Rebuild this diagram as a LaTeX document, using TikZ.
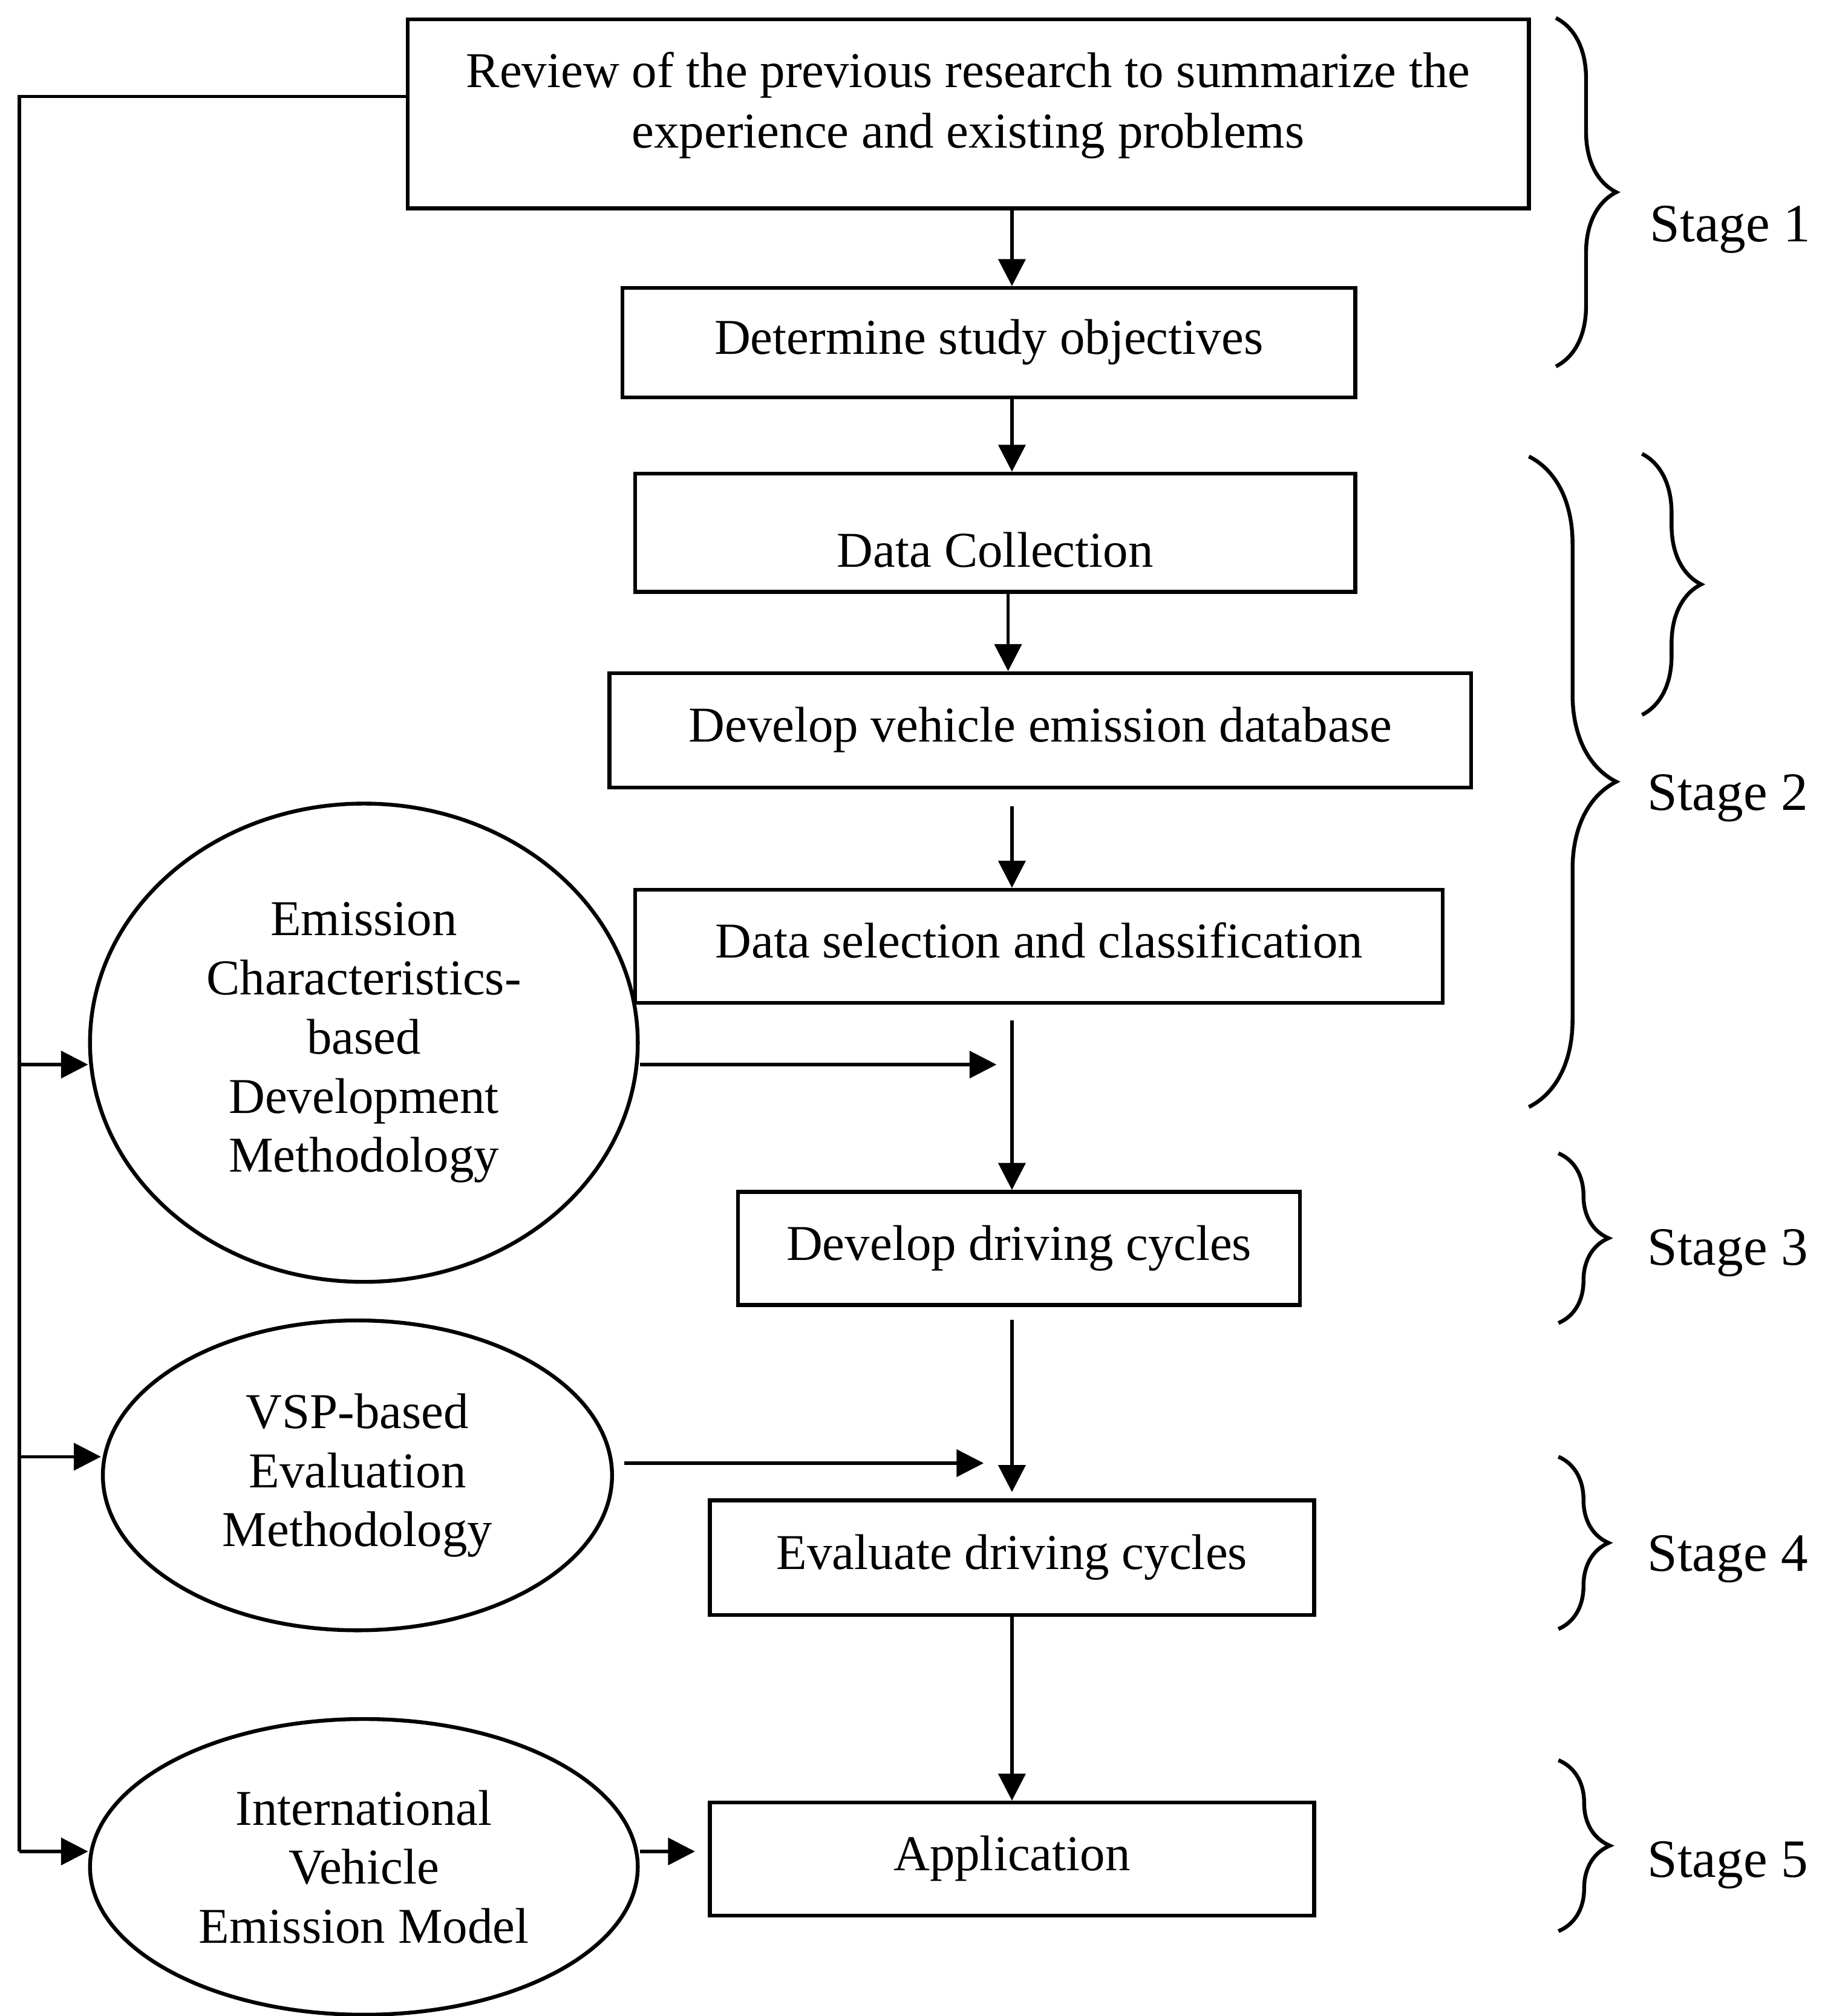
\documentclass[tikz,border=0pt]{standalone}
\usepackage{fontspec}
\setmainfont{Liberation Serif}
\usetikzlibrary{arrows.meta,shapes.geometric,decorations.pathreplacing}
\tikzset{
  txtfont/.style={font=\fontsize{39pt}{46pt}\selectfont},
  stepbox/.style={draw, line width=3pt, rectangle, inner sep=0pt, txtfont,
    text height=27pt, text depth=9pt},
  bigbox/.style={draw, line width=3pt, rectangle, inner sep=0pt},
  oval/.style={draw, line width=3pt, ellipse, inner sep=0pt, txtfont, align=center},
  conn/.style={line width=2.5pt, -{Triangle[length=21pt,width=21pt]}},
  plain/.style={line width=2.5pt},
  stagebrace/.style={line width=3pt, decorate, decoration={brace, amplitude=#1}},
  stagelbl/.style={anchor=base west, inner sep=0pt, font=\fontsize{42pt}{46pt}\selectfont}
}
\begin{document}
\begin{tikzpicture}[x=1pt, y=-1pt]
\useasboundingbox (0,0) rectangle (1419,1568);

% boxes
\node[bigbox, minimum width=872pt, minimum height=147pt,
  label={[name=b1t, txtfont, align=center, inner sep=0pt, yshift=6.5pt, font=\fontsize{39pt}{47pt}\selectfont]center:{Review of the previous research to summarize the\\experience and existing problems}}]
  (b1) at (753,88.6) {};
\node[stepbox, minimum width=570pt, minimum height=85pt] (b2) at (769,266.5) {Determine study objectives};
\node[stepbox, minimum width=560pt, minimum height=92pt, text height=62pt] (b3) at (774,414.4) {Data Collection};
\node[stepbox, minimum width=670pt, minimum height=89pt] (b4) at (809,568) {Develop vehicle emission database};
\node[stepbox, minimum width=628pt, minimum height=88pt] (b5) at (808,736) {Data selection and classification};
\node[stepbox, minimum width=437pt, minimum height=88pt] (b6) at (792.5,971) {Develop driving cycles};
\node[stepbox, minimum width=470pt, minimum height=89pt] (b7) at (787,1211.5) {Evaluate driving cycles};
\node[stepbox, minimum width=470pt, minimum height=88pt] (b8) at (787,1446) {Application};

% ellipses
\node[oval, minimum width=426pt, minimum height=372pt] (e1) at (283,811)
  {Emission\\Characteristics-\\based\\Development\\Methodology};
\node[oval, minimum width=396pt, minimum height=241pt] (e2) at (278,1147.5)
  {VSP-based\\Evaluation\\Methodology};
\node[oval, minimum width=426pt, minimum height=230pt] (e3) at (283,1452)
  {International\\Vehicle\\Emission Model};

% helper coordinates
\coordinate (ax) at (787,0);
\coordinate (ax2) at (784,0);
\coordinate (f0) at (15,75);
\coordinate (f1) at (15,828);
\coordinate (f2) at (15,1133);
\coordinate (f3) at (15,1440);
\coordinate (p1) at (775,828);
\coordinate (p2) at (765,1138);

% main flow
\draw[conn] (b1.south -| ax) -- (b2.north -| ax);
\draw[conn] (b2.south -| ax) -- (b3.north -| ax);
\draw[conn] (b3.south -| ax2) -- (b4.north -| ax2);
\draw[conn, shorten <=13pt] (b4.south -| ax) -- (b5.north -| ax);
\draw[conn, shorten <=12pt] (b5.south -| ax) -- (b6.north -| ax);
\draw[conn, shorten <=10pt, shorten >=5pt] (b6.south -| ax) -- (b7.north -| ax);
\draw[conn] (b7.south -| ax) -- (b8.north -| ax);

% method inputs
\draw[conn] (e1.east |- p1) -- (p1);
\draw[conn, shorten <=8pt] (e2.east |- p2) -- (p2);
\draw[conn, shorten >=10pt] (e3.east |- f3) -- (b8.west |- f3);

% feedback line
\draw[plain] (b1.west |- f0) -- (f0) -- (f3);
\draw[conn] (f1) -- (f1 -| e1.west);
\draw[conn] (f2) -- (f2 -| e2.west);
\draw[conn] (f3) -- (f3 -| e3.west);

% braces
\draw[stagebrace=47pt] (1210,14) -- (1210,285);
\draw[stagebrace=68pt] (1189,355) -- (1189,861);
\draw[stagebrace=46pt] (1277,353) -- (1277,556);
\draw[stagebrace=39pt] (1212,897) -- (1212,1029);
\draw[stagebrace=39pt] (1212,1133) -- (1212,1267);
\draw[stagebrace=40pt] (1212,1369) -- (1212,1502);

% stage labels
\node[stagelbl] (s1) at (1283,188) {Stage 1};
\node[stagelbl] (s2) at (1281,630) {Stage 2};
\node[stagelbl] (s3) at (1281,984) {Stage 3};
\node[stagelbl] (s4) at (1281,1222) {Stage 4};
\node[stagelbl] (s5) at (1281,1460) {Stage 5};
\end{tikzpicture}
\end{document}
